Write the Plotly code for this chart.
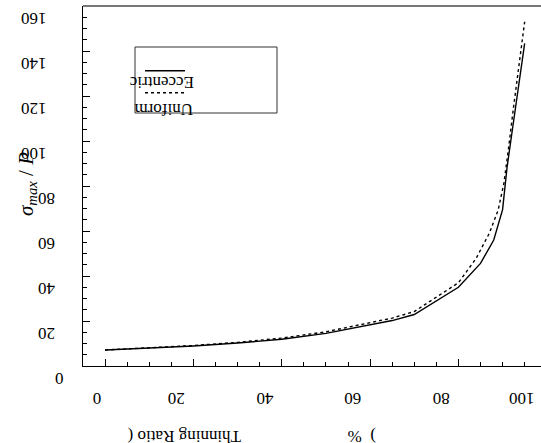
import plotly.graph_objects as go

# Data
x_uniform = [0, 10, 20, 30, 40, 50, 60, 65, 70, 75, 80, 85, 88, 90, 91, 92, 93, 95]
y_uniform = [7.1, 7.9, 8.9, 10.2, 11.9, 14.5, 18.2, 20.2, 22.9, 29.0, 35.0, 45.6, 56.0, 69.5, 88.0, 102.0, 116.0, 143.4]

x_eccentric = [0, 10, 20, 30, 40, 50, 60, 65, 70, 75, 80, 84, 87, 89, 90.3, 91.3, 92.4, 95]
y_eccentric = [7.1, 8.0, 9.1, 10.5, 12.4, 15.2, 19.2, 21.3, 24.2, 30.5, 37.0, 47.8, 59.0, 69.3, 81.2, 96.0, 113.8, 153.0]

x_ticks = [0, 20, 40, 60, 80, 100]
y_ticks = [0, 20, 40, 60, 80, 100, 120, 140, 160]

X_RANGE = [-5, 98.7]
Y_RANGE = [0, 160]

FONT = "Liberation Serif"
FS = 17
DIGIT_W = 8.5  # approx. width of one digit at FS

fig = go.Figure()
fig.add_trace(go.Scatter(x=x_uniform, y=y_uniform, mode="lines",
                         line=dict(color="black", width=1.4), name="Uniform",
                         showlegend=False, hoverinfo="skip"))
fig.add_trace(go.Scatter(x=x_eccentric, y=y_eccentric, mode="lines",
                         line=dict(color="black", width=1.4, dash="dot"),
                         name="Eccentric", showlegend=False, hoverinfo="skip"))

W, H = 541, 443
L, R, T, B = 83, 0, 6, 77
pw, ph = W - L - R, H - T - B


def px(xp):
    return (xp - L) / pw


def py(yp):
    return (H - B - yp) / ph


def xdata_to_paper(v):
    return (v - X_RANGE[0]) / (X_RANGE[1] - X_RANGE[0])


axis_common = dict(ticks="inside", ticklen=7, tickwidth=1, tickcolor="black",
                   showline=True, linecolor="black", linewidth=1.3, showgrid=False,
                   zeroline=False, showticklabels=False, automargin=False)

fig.update_layout(
    width=W, height=H,
    margin=dict(l=L, r=R, t=T, b=B, autoexpand=False),
    paper_bgcolor="white", plot_bgcolor="white",
    font=dict(family=FONT, size=FS, color="black"),
    showlegend=False,
    xaxis=dict(range=X_RANGE, tickvals=x_ticks,
               minor=dict(dtick=5, ticks="inside", ticklen=4, tickcolor="black"),
               **axis_common),
    yaxis=dict(range=Y_RANGE, tickvals=y_ticks,
               minor=dict(dtick=5, ticks="inside", ticklen=4, tickcolor="black"),
               **axis_common),
)

shapes = [
    # top frame line
    dict(type="line", xref="paper", yref="paper", x0=0, x1=1, y0=1, y1=1,
         line=dict(color="#777777", width=2)),
    # legend box
    dict(type="rect", xref="paper", yref="paper", x0=px(135), x1=px(277),
         y0=py(113), y1=py(47), line=dict(color="#333333", width=1),
         fillcolor="white", layer="above"),
    dict(type="line", xref="paper", yref="paper", x0=px(145), x1=px(185),
         y0=py(70.7), y1=py(70.7), line=dict(color="black", width=1.4)),
    dict(type="line", xref="paper", yref="paper", x0=px(145), x1=px(185),
         y0=py(92.7), y1=py(92.7), line=dict(color="black", width=1.4, dash="dot")),
]
fig.update_layout(shapes=shapes)

annotations = []
# upside-down tick labels (as drawn in the reference)
for v in x_ticks:
    t = str(v)
    w = DIGIT_W * len(t)
    annotations.append(dict(text=t, x=xdata_to_paper(v), xref="paper", y=py(398),
                            yref="paper", xshift=-w, showarrow=False, textangle=180,
                            xanchor="center", yanchor="middle",
                            font=dict(family=FONT, size=FS)))
for v in y_ticks:
    t = str(v)
    w = DIGIT_W * len(t)
    annotations.append(dict(text=t, x=px(72 - 1.5 * w), xref="paper", y=v, yref="y",
                            yshift=-13, showarrow=False, textangle=180,
                            xanchor="center", yanchor="middle",
                            font=dict(family=FONT, size=FS)))

annotations += [
    dict(text="Eccentric", x=px(161.5), y=py(83), xref="paper", yref="paper",
         showarrow=False, textangle=180, xanchor="center", yanchor="middle",
         font=dict(family=FONT, size=FS)),
    dict(text="Uniform", x=px(164), y=py(109.5), xref="paper", yref="paper",
         showarrow=False, textangle=180, xanchor="center", yanchor="middle",
         font=dict(family=FONT, size=FS)),
    dict(text="<i>σ</i><sub><i>max</i></sub> / <i>P</i>", x=px(27), y=py(184),
         xref="paper", yref="paper", showarrow=False, textangle=-90,
         xanchor="center", yanchor="middle", font=dict(family=FONT, size=21)),
    dict(text="Thinning Ratio (", x=px(184), y=py(437), xref="paper", yref="paper",
         showarrow=False, textangle=180, xanchor="center", yanchor="middle",
         font=dict(family=FONT, size=FS)),
    dict(text=")  %", x=px(362), y=py(437), xref="paper", yref="paper",
         showarrow=False, textangle=180, xanchor="center", yanchor="middle",
         font=dict(family=FONT, size=FS)),
]
fig.update_layout(annotations=annotations)

fig.write_html("out.html", config={"displayModeBar": False},
               post_script="document.body.style.margin='0';document.body.style.padding='0';")
